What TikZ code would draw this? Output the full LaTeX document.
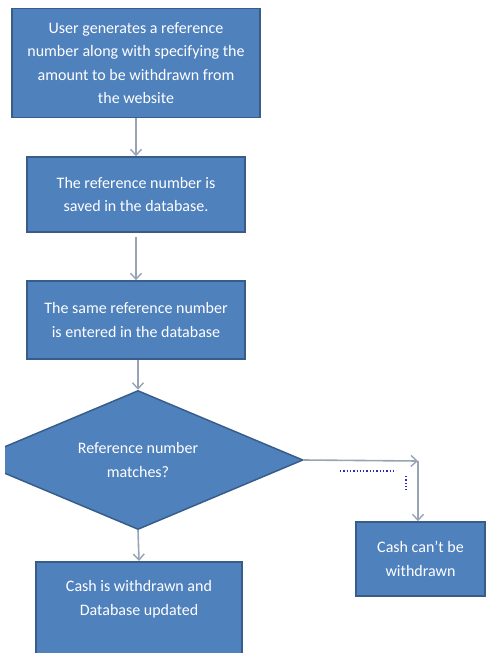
\documentclass[tikz,border=0pt]{standalone}
\usepackage{fontspec}
\setmainfont{Carlito}
\usetikzlibrary{shapes.geometric,arrows.meta}
\definecolor{boxfill}{HTML}{4F81BD}
\definecolor{boxline}{HTML}{385D8A}
\definecolor{arrowc}{HTML}{98A4B4}
\definecolor{dotc}{HTML}{2A2AB8}
\begin{document}
\begin{tikzpicture}[x=1pt,y=-1pt,
  flowbox/.style={rectangle, fill=boxfill, draw=boxline, line width=1.5pt,
    text=white, align=center, inner sep=0pt,
    font=\fontsize{16}{23.5}\selectfont},
  decision/.style={diamond, aspect=2.37, fill=boxfill, draw=boxline, line width=1.5pt,
    text=white, align=center, inner sep=0pt,
    font=\fontsize{16}{23.5}\selectfont},
  flow/.style={draw=arrowc, line width=1.6pt,
    -{Straight Barb[length=6pt,width=11pt,line width=1.4pt]}},
  dotline/.style={draw=dotc, line width=1.3pt, dotted}]
\useasboundingbox (0,0) rectangle (486,653);
\clip (0,0) rectangle (486,653);
\node[flowbox, minimum width=248pt, minimum height=109pt] (b1) at (136,63)
  {User generates a reference\\number along with specifying the\\amount to be withdrawn from\\the website};
\node[flowbox, minimum width=218pt, minimum height=75pt] (b2) at (136,194.5)
  {The reference number is\\saved in the database.};
\node[flowbox, minimum width=218pt, minimum height=78pt] (b3) at (136,320)
  {The same reference number\\is entered in the database};
\begin{scope}
\clip (5,380) rectangle (320,540);
\node[decision, minimum width=330pt, minimum height=139pt] (d) at (138,460)
  {Reference number\\matches?};
\end{scope}
\node[flowbox, minimum width=129pt, minimum height=74pt] (b4) at (420.5,559)
  {Cash can’t be\\withdrawn};
\node[flowbox, minimum width=206pt, minimum height=110pt, anchor=north] (b5) at (139,561) {};
\node[text=white, align=center, font=\fontsize{16}{23.5}\selectfont] (t5) at (139,599)
  {Cash is withdrawn and\\Database updated};
\coordinate (c1) at (418,461);
\draw[flow] (b1.south) -- (b2.north);
\draw[flow] (136,237) -- (b3.north);
\draw[flow] (b3.south -| d.north) -- (d.north);
\draw[flow] (d.east) -- (c1);
\draw[flow] (c1) -- (c1 |- b4.north);
\draw[flow] (d.south) -- (b5.north);
\draw[dotline] (340,471) -- (395,471);
\draw[dotline] (406,476) -- (406,490);
\end{tikzpicture}
\end{document}
